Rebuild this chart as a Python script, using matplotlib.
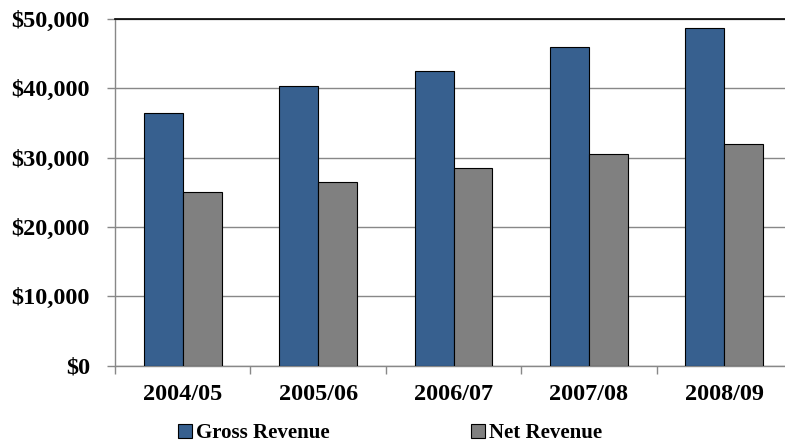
import matplotlib.pyplot as plt
import numpy as np
from matplotlib.ticker import FuncFormatter

# ---------- Data ----------------------------------------------
years = ['2004/05', '2005/06', '2006/07', '2007/08', '2008/09']
gross_revenue = [36500, 40400, 42500, 46000, 48700]
net_revenue = [25000, 26500, 28450, 30500, 31900]

# ---------- Styles --------------------------------------------
plt.rcParams['font.family'] = ['Liberation Serif', 'DejaVu Serif']
plt.rcParams['font.weight'] = 'bold'

blue = '#37608f'
grey = '#808080'
axis_grey = '#888888'

fig = plt.figure(figsize=(7.85, 4.47), dpi=100)
ax = fig.add_axes([115 / 785, 81.5 / 447, 677 / 785, 346.5 / 447])

x = np.arange(len(years))
w = 0.288
ax.bar(x - w / 2, gross_revenue, w, color=blue, edgecolor='black',
       linewidth=0.8, label='Gross Revenue', zorder=3)
ax.bar(x + w / 2, net_revenue, w, color=grey, edgecolor='black',
       linewidth=0.8, label='Net Revenue', zorder=3)

ax.set_xlim(-0.5, len(years) - 0.5)
ax.set_ylim(0, 50000)
ax.set_yticks(np.arange(0, 50001, 10000))
ax.yaxis.set_major_formatter(FuncFormatter(lambda v, p: '${:,.0f}'.format(v)))
ax.yaxis.grid(True, color=axis_grey, linewidth=1, zorder=0)

# category labels centred, tick marks between categories
ax.set_xticks(x)
ax.set_xticklabels(years)
ax.set_xticks(np.arange(-0.5, len(years), 1), minor=True)
ax.tick_params(axis='x', which='major', length=0, pad=13, labelsize=17.5)
ax.tick_params(axis='x', which='minor', length=6, color=axis_grey, width=1)
ax.tick_params(axis='y', length=6, color=axis_grey, width=1, pad=12, labelsize=17.5)

for side in ['left', 'bottom']:
    ax.spines[side].set_color(axis_grey)
    ax.spines[side].set_linewidth(1)
ax.spines['right'].set_visible(False)
ax.spines['top'].set_color('black')
ax.spines['top'].set_linewidth(1.2)

leg = fig.legend(loc='center', bbox_to_anchor=(390 / 785, 1 - 433 / 447), ncol=2,
                 frameon=False, fontsize=15, handlelength=0.65, handleheight=0.65,
                 handletextpad=0.2, columnspacing=6.8)

plt.savefig('out.png', dpi=100)
